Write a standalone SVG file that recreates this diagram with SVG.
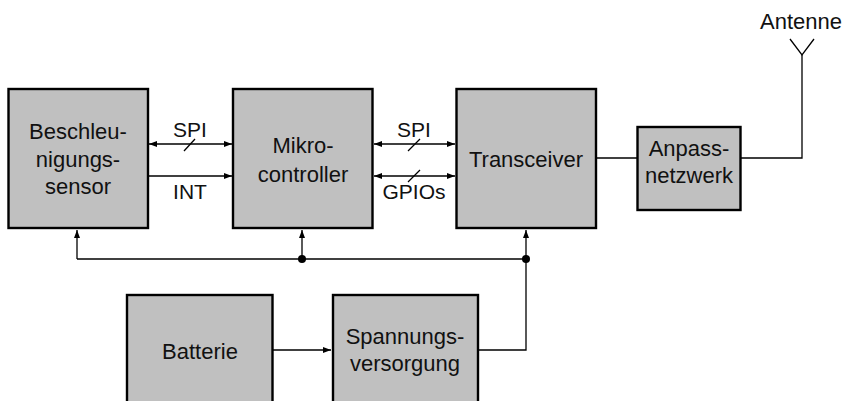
<svg xmlns="http://www.w3.org/2000/svg" width="846" height="401" viewBox="0 0 846 401">
  <style>
    .box { fill: #c0c0c0; stroke: #000; stroke-width: 2.4; }
    .lbl { font-family: "Liberation Sans", Arial, sans-serif; font-size: 22px; fill: #111; text-anchor: middle; }
    .sig { font-family: "Liberation Sans", Arial, sans-serif; font-size: 21px; fill: #111; text-anchor: middle; }
    .wire { fill: none; stroke: #000; stroke-width: 1.3; }
    .arr { fill: none; stroke: #000; stroke-width: 1.3; marker-end: url(#tip); }
    .bi { fill: none; stroke: #000; stroke-width: 1.3; marker-start: url(#tipS); marker-end: url(#tip); }
    .slash { stroke: #000; stroke-width: 1.3; }
  </style>
  <defs>
    <marker id="tip" viewBox="0 0 8 6" refX="8" refY="3" markerWidth="8" markerHeight="6" markerUnits="userSpaceOnUse" orient="auto">
      <path d="M0,0 L8,3 L0,6 Z" fill="#000"/>
    </marker>
    <marker id="tipS" viewBox="0 0 8 6" refX="0" refY="3" markerWidth="8" markerHeight="6" markerUnits="userSpaceOnUse" orient="auto">
      <path d="M8,0 L0,3 L8,6 Z" fill="#000"/>
    </marker>
  </defs>

  <!-- connectors -->
  <g id="connectors">
    <!-- sensor <-> microcontroller -->
    <line class="bi" x1="149" y1="144" x2="232" y2="144"/>
    <line class="slash" x1="184" y1="151" x2="195" y2="139"/>
    <line class="arr" x1="149" y1="176" x2="232" y2="176"/>
    <!-- microcontroller <-> transceiver -->
    <line class="bi" x1="374" y1="144" x2="455" y2="144"/>
    <line class="slash" x1="408" y1="151" x2="420" y2="139"/>
    <line class="bi" x1="374" y1="176" x2="455" y2="176"/>
    <line class="slash" x1="408" y1="182" x2="420" y2="170"/>
    <!-- transceiver - matching network - antenna -->
    <line class="wire" x1="597" y1="158" x2="637" y2="158"/>
    <polyline class="wire" points="741,158 802,158 802,55"/>
    <polyline class="wire" points="790,39 802,55 814,39"/>
    <!-- supply bus -->
    <line class="wire" x1="77" y1="259" x2="526" y2="259"/>
    <line class="arr" x1="77" y1="259" x2="77" y2="230"/>
    <line class="arr" x1="302" y1="259" x2="302" y2="230"/>
    <line class="arr" x1="526" y1="259" x2="526" y2="230"/>
    <circle cx="302" cy="259" r="4" fill="#000"/>
    <circle cx="526" cy="259" r="4" fill="#000"/>
    <polyline class="wire" points="479,350 526,350 526,259"/>
    <line class="arr" x1="273" y1="350" x2="331" y2="350"/>
  </g>

  <g id="sensor">
    <rect class="box" x="8.5" y="89" width="139.5" height="139"/>
    <text class="lbl" x="78" y="139">Beschleu-</text>
    <text class="lbl" x="78" y="166.5">nigungs-</text>
    <text class="lbl" x="78" y="194">sensor</text>
  </g>
  <g id="label-spi1"><text class="sig" x="190" y="137">SPI</text></g>
  <g id="label-int"><text class="sig" x="190" y="199">INT</text></g>

  <g id="mcu">
    <rect class="box" x="233" y="89" width="139.5" height="139"/>
    <text class="lbl" x="303" y="153">Mikro-</text>
    <text class="lbl" x="303" y="182">controller</text>
  </g>
  <g id="label-spi2"><text class="sig" x="414" y="137">SPI</text></g>
  <g id="label-gpio"><text class="sig" x="414" y="199">GPIOs</text></g>

  <g id="transceiver">
    <rect class="box" x="456.5" y="89" width="139.5" height="139"/>
    <text class="lbl" x="526" y="167">Transceiver</text>
  </g>

  <g id="matching">
    <rect class="box" x="637.5" y="127" width="103" height="83"/>
    <text class="lbl" x="689" y="156">Anpass-</text>
    <text class="lbl" x="689" y="183">netzwerk</text>
  </g>

  <g id="antenna">
    <text class="sig" x="801" y="29" style="font-size:22px">Antenne</text>
  </g>

  <g id="battery">
    <rect class="box" x="127" y="295" width="145.5" height="139"/>
    <text class="lbl" x="200" y="359">Batterie</text>
  </g>

  <g id="supply">
    <rect class="box" x="333" y="295" width="145" height="139"/>
    <text class="lbl" x="405" y="344">Spannungs-</text>
    <text class="lbl" x="405" y="371">versorgung</text>
  </g>
</svg>
